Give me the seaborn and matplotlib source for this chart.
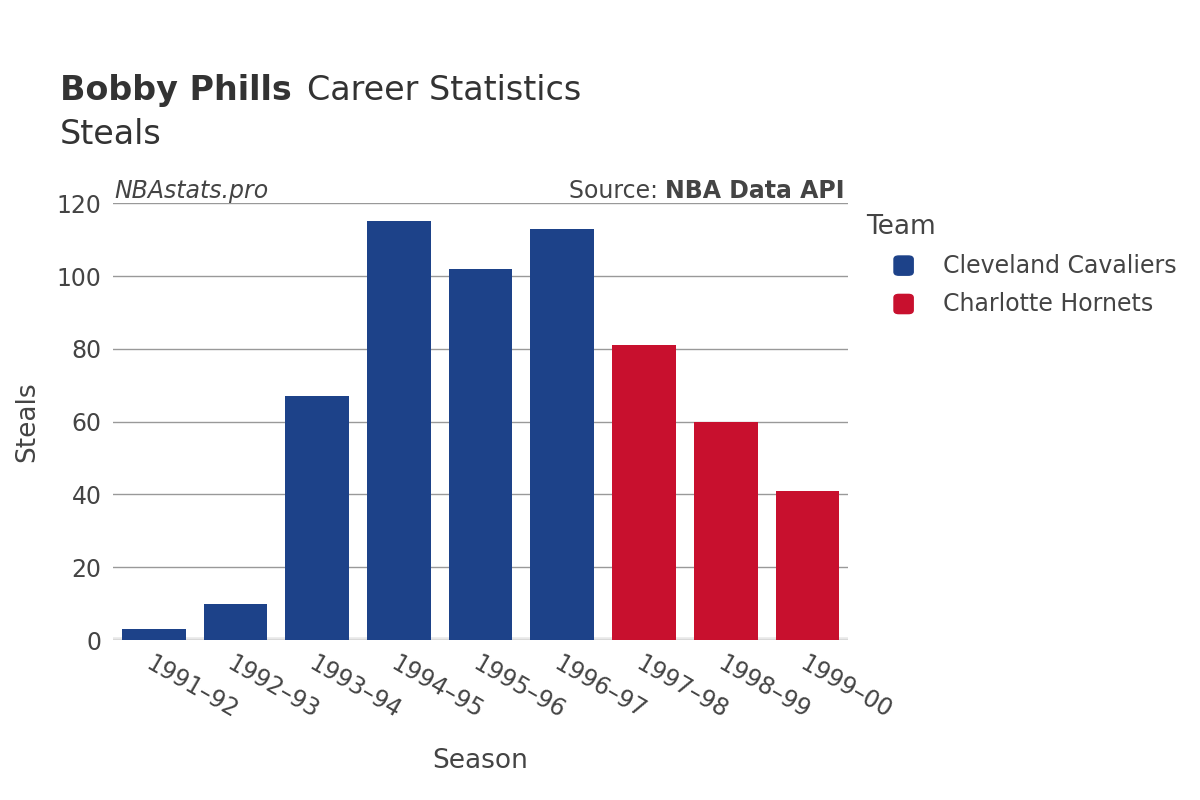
import matplotlib
matplotlib.use("Agg")
import matplotlib.pyplot as plt
import seaborn as sns
import pandas as pd

seasons = ["1991-92", "1992-93", "1993-94", "1994-95", "1995-96",
           "1996-97", "1997-98", "1998-99", "1999-00"]
steals = [3, 10, 67, 115, 102, 113, 81, 60, 41]
teams = ["Cleveland Cavaliers"] * 6 + ["Charlotte Hornets"] * 3
palette = {"Cleveland Cavaliers": "#1d4289", "Charlotte Hornets": "#c8102e"}

df = pd.DataFrame({"Season": seasons, "Steals": steals, "Team": teams})

plt.rcParams["font.family"] = "DejaVu Sans"
fig = plt.figure(figsize=(12, 8), dpi=100)
ax = fig.add_axes([0.094, 0.2, 0.613, 0.546])

sns.barplot(data=df, x="Season", y="Steals", hue="Team", palette=palette,
            dodge=False, width=0.78, saturation=1, ax=ax, legend=False)

ax.set_ylim(0, 120)
ax.set_yticks(range(0, 121, 20))
ax.set_xlim(-0.5, 8.5)
ax.grid(axis="y", color="#999999", linewidth=1)
ax.set_axisbelow(True)
for s in ax.spines.values():
    s.set_visible(False)
ax.axhline(0, color="#e8e8e8", linewidth=4, zorder=0)
ax.tick_params(length=0, labelsize=17, colors="#444444", pad=8)
ax.set_xticks(range(len(seasons)))
ax.set_xticklabels([s.replace("-", "–") for s in seasons], rotation=-30,
                   ha="left", rotation_mode="anchor")
ax.set_xlabel("Season", fontsize=19, color="#444444", labelpad=18)
ax.set_ylabel("Steals", fontsize=19, color="#444444", labelpad=12)

fig.text(0.05, 0.875, "Bobby Phills", fontsize=24, fontweight="bold", color="#333333")
fig.text(0.256, 0.875, "Career Statistics", fontsize=24, color="#333333")
fig.text(0.05, 0.82, "Steals", fontsize=24, color="#333333")
fig.text(0.095, 0.752, "NBAstats.pro", fontsize=17, style="italic", color="#444444")
src = fig.text(0.704, 0.752, "NBA Data API", fontsize=17, fontweight="bold",
               color="#444444", ha="right")
fig.canvas.draw()
bb = src.get_window_extent(fig.canvas.get_renderer())
fig.text(bb.x0 / fig.bbox.width, 0.752, "Source: ", fontsize=17, color="#444444", ha="right")

# legend
fig.text(0.722, 0.708, "Team", fontsize=19, color="#444444")
for i, (name, col) in enumerate(palette.items()):
    y = 0.668 - i * 0.048
    fig.patches.append(matplotlib.patches.FancyBboxPatch(
        (0.745, y - 0.012), 0.016, 0.024, boxstyle="round,pad=0,rounding_size=0.004",
        transform=fig.transFigure, color=col))
    fig.text(0.786, y, name, fontsize=17, color="#444444", va="center")

fig.savefig("out.png", dpi=100)
